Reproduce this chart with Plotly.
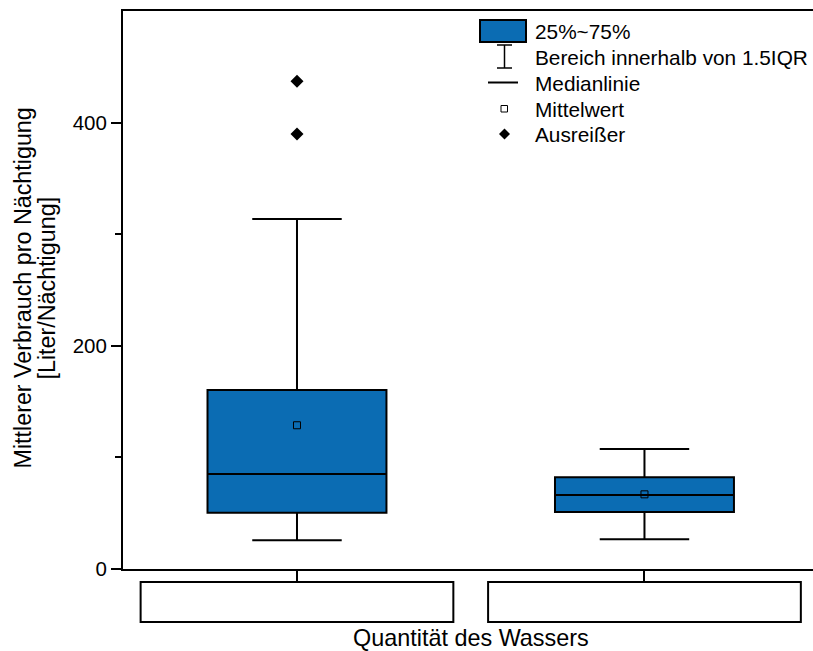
import plotly.graph_objects as go

# ---- data ----
cat_pos = [0, 1]
cat_labels = ["", ""]
q1 = [50.5, 51.1]
median = [85.1, 66.3]
q3 = [160.4, 82.2]
lower_whisker = [25.7, 26.6]
upper_whisker = [313.6, 107.5]
mean_vals = [128.8, 66.9]
outlier_x = [0, 0]
outlier_y = [437.0, 389.8]

BLUE = "#0b6cb3"
FONT = "Liberation Sans, Arial, sans-serif"

W, H = 813, 651
L, R, T, B = 123, 0, 11, 82
PW, PH = W - L - R, H - T - B


def px(x):
    return (x - L) / PW


def py(y):
    return (H - B - y) / PH


fig = go.Figure()

for i in range(len(cat_pos)):
    fig.add_trace(go.Box(
        x=[cat_pos[i]], q1=[q1[i]], median=[median[i]], q3=[q3[i]],
        lowerfence=[lower_whisker[i]], upperfence=[upper_whisker[i]],
        width=0.515, whiskerwidth=0.5,
        fillcolor=BLUE, line=dict(color="black", width=2),
        boxpoints=False, showlegend=False, hoverinfo="skip",
    ))

fig.add_trace(go.Scatter(
    x=cat_pos, y=mean_vals, mode="markers",
    marker=dict(symbol="square-open", size=7, color="black", line=dict(width=1)),
    showlegend=False, hoverinfo="skip",
))
fig.add_trace(go.Scatter(
    x=outlier_x, y=outlier_y, mode="markers",
    marker=dict(symbol="diamond", size=10, color="black"),
    showlegend=False, hoverinfo="skip",
))

shapes = []
# category label boxes under the axis
for c in cat_pos:
    shapes.append(dict(type="rect", xref="x", yref="paper",
                       x0=c - 0.45, x1=c + 0.45, y0=py(622), y1=py(582),
                       line=dict(color="black", width=2), fillcolor="white"))

# manual legend
shapes.append(dict(type="rect", xref="paper", yref="paper",
                   x0=px(480), x1=px(526), y0=py(42), y1=py(20),
                   line=dict(color="black", width=2), fillcolor=BLUE))
for (x0, y0, x1, y1) in [(504.5, 45, 504.5, 68), (497, 45, 512, 45), (497, 68, 512, 68)]:
    shapes.append(dict(type="line", xref="paper", yref="paper",
                       x0=px(x0), x1=px(x1), y0=py(y0), y1=py(y1),
                       line=dict(color="black", width=1.5)))
shapes.append(dict(type="line", xref="paper", yref="paper",
                   x0=px(488), x1=px(518), y0=py(82.5), y1=py(82.5),
                   line=dict(color="black", width=2)))
shapes.append(dict(type="rect", xref="paper", yref="paper",
                   x0=px(501), x1=px(507.5), y0=py(112), y1=py(105.5),
                   line=dict(color="black", width=1), fillcolor="white"))
cx, cy, d = 504.5, 134, 5.5
shapes.append(dict(type="path", xref="paper", yref="paper",
                   path=f"M {px(cx)},{py(cy-d)} L {px(cx+d)},{py(cy)} L {px(cx)},{py(cy+d)} L {px(cx-d)},{py(cy)} Z",
                   line=dict(color="black", width=0), fillcolor="black"))

legend_texts = ["25%~75%", "Bereich innerhalb von 1.5IQR", "Medianlinie", "Mittelwert", "Ausreißer"]
legend_y = [31.5, 58, 83, 109, 134]
annotations = []
for t, yy in zip(legend_texts, legend_y):
    annotations.append(dict(text=t, xref="paper", yref="paper", x=px(533), y=py(yy),
                            xanchor="left", yanchor="middle", showarrow=False,
                            font=dict(size=20.8, color="black", family=FONT)))

# axis titles
annotations.append(dict(text="Mittlerer Verbrauch pro Nächtigung", xref="paper", yref="paper",
                        x=px(22.5), y=py(288), textangle=-90, xanchor="center", yanchor="middle",
                        showarrow=False, font=dict(size=23.3, color="black", family=FONT)))
annotations.append(dict(text="[Liter/Nächtigung]", xref="paper", yref="paper",
                        x=px(46.5), y=py(288), textangle=-90, xanchor="center", yanchor="middle",
                        showarrow=False, font=dict(size=23.3, color="black", family=FONT)))
annotations.append(dict(text="Quantität des Wassers", xref="paper", yref="paper",
                        x=px(471), y=py(638), xanchor="center", yanchor="middle",
                        showarrow=False, font=dict(size=23.4, color="black", family=FONT)))

fig.update_layout(
    width=W, height=H,
    margin=dict(l=L, r=R, t=T, b=B, pad=0),
    paper_bgcolor="white", plot_bgcolor="white",
    font=dict(family=FONT, size=20, color="black"),
    shapes=shapes, annotations=annotations,
    showlegend=False,
)
fig.update_xaxes(
    range=[-0.5007, 1.485], tickvals=cat_pos, ticktext=cat_labels,
    showgrid=False, zeroline=False, showline=True, linecolor="black", linewidth=2,
    mirror=True, ticks="outside", ticklen=13, tickwidth=2, tickcolor="black",
)
fig.update_yaxes(
    range=[0, 500], tickvals=[0, 200, 400],
    showgrid=False, zeroline=False, showline=True, linecolor="black", linewidth=2,
    ticks="outside", ticklen=10, tickwidth=2, tickcolor="black",
    tickfont=dict(size=20.5, family=FONT, color="black"),
    minor=dict(tickvals=[100, 300], ticks="outside", ticklen=6, tickwidth=2, tickcolor="black"),
)

fig.write_html(
    "out.html",
    config={"displayModeBar": False},
    post_script="document.body.style.margin='0';document.body.style.overflow='hidden';",
)
